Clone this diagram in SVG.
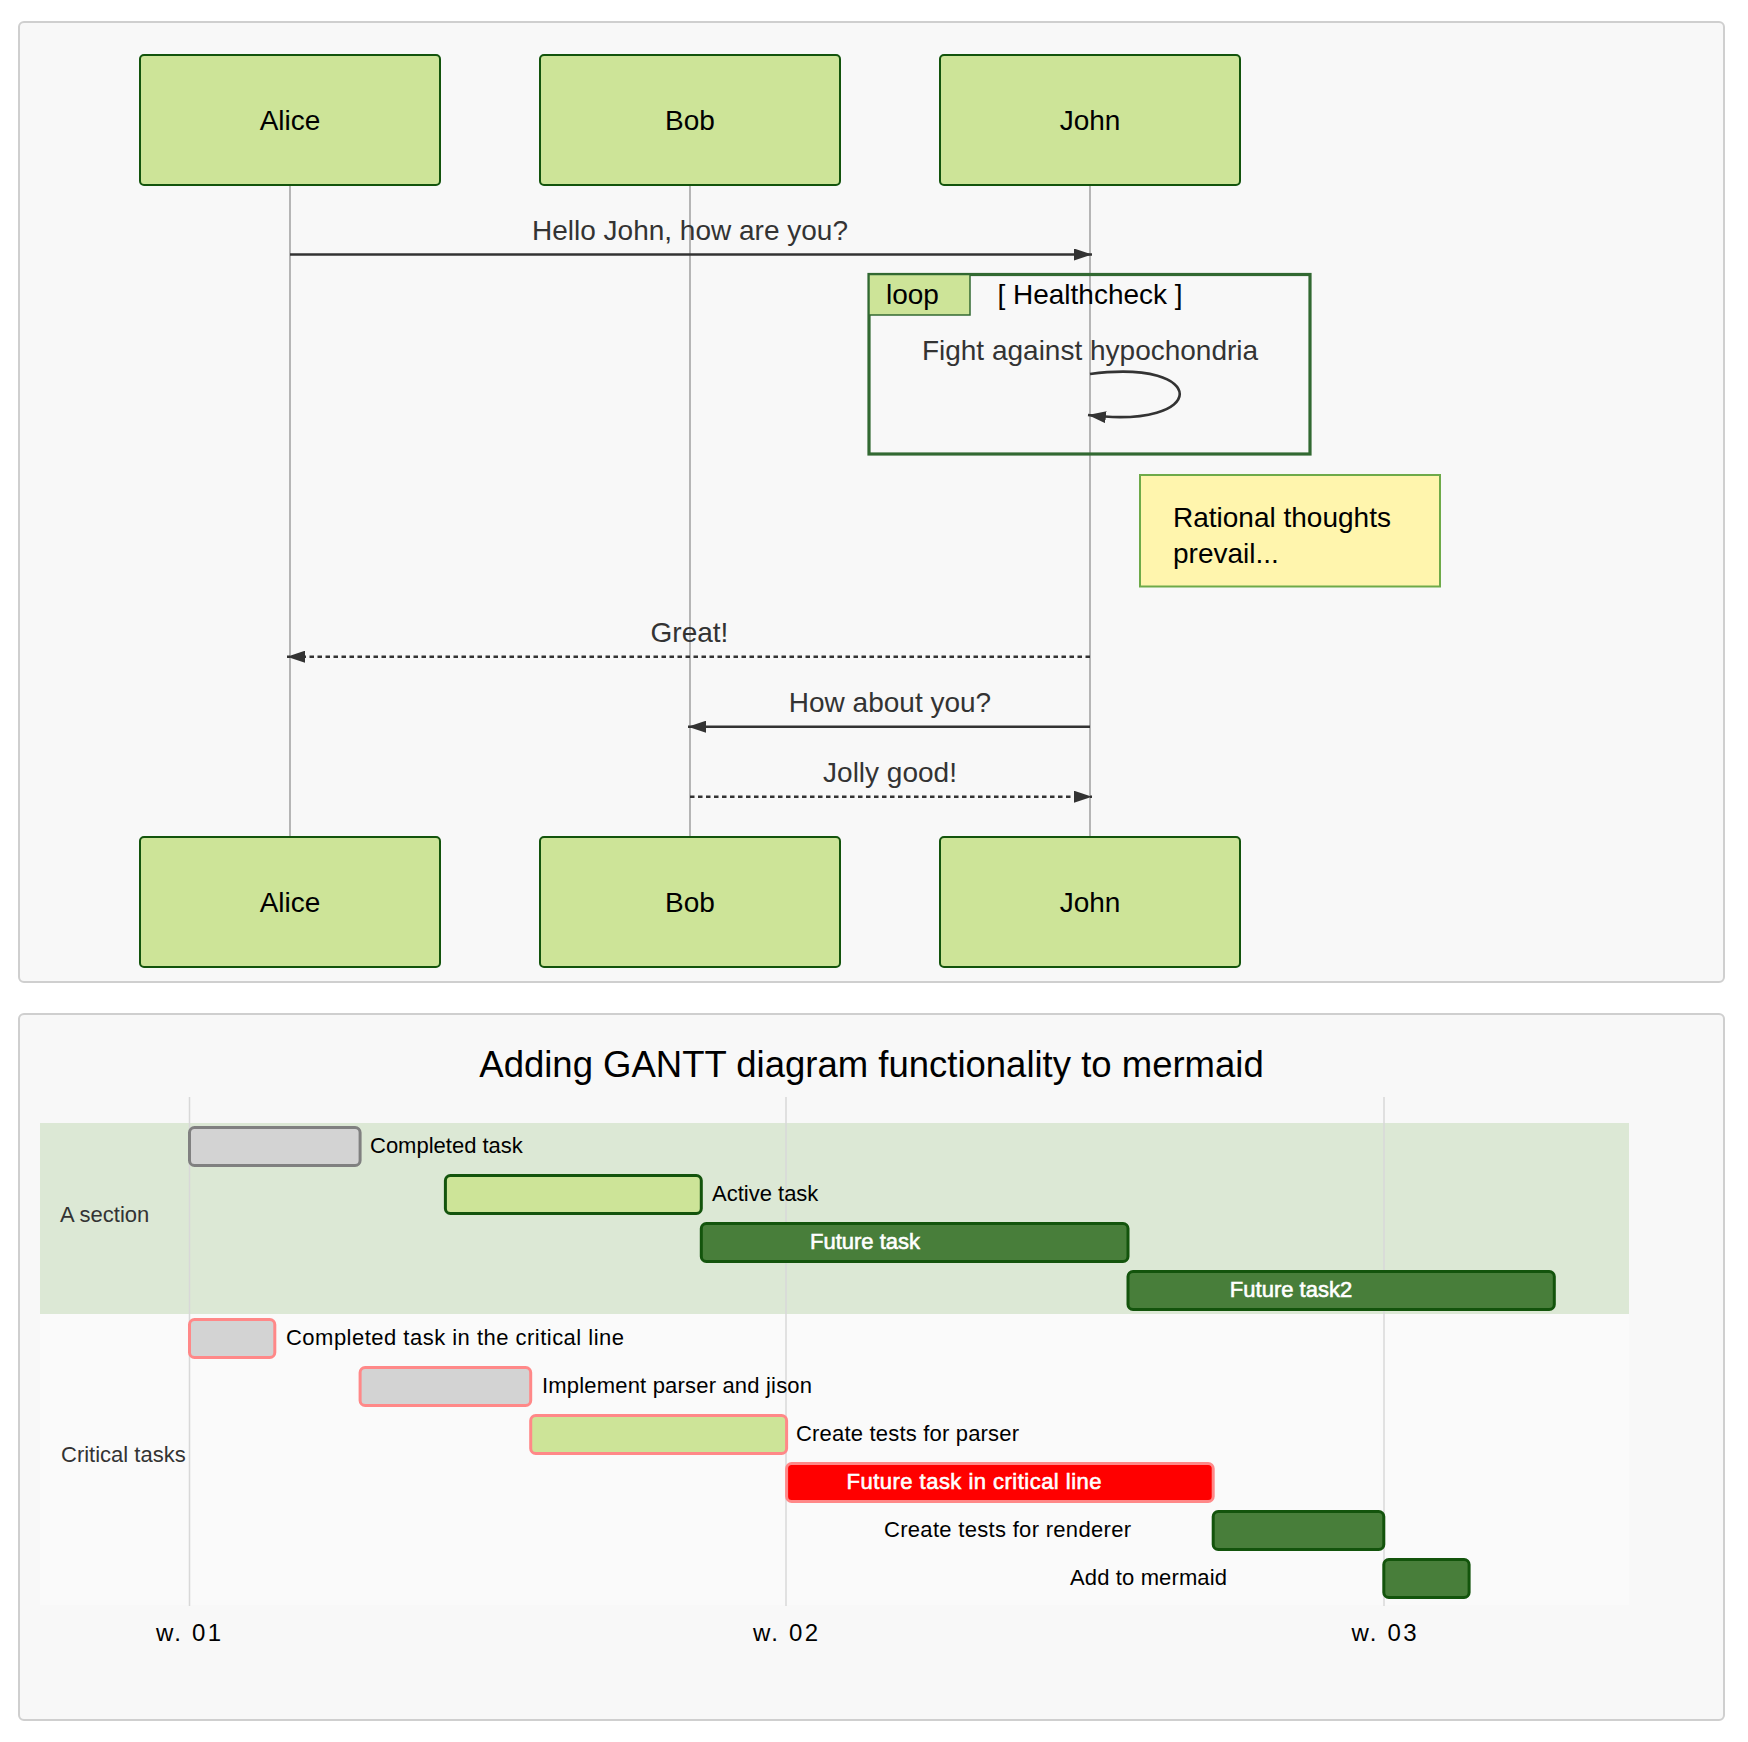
<svg xmlns="http://www.w3.org/2000/svg" width="1748" height="1742" viewBox="0 0 1748 1742">
<defs>
<style>
.panel{fill:#f8f8f8;stroke:#cfcfcf;stroke-width:2}
.actor{fill:#cde498;stroke:#13540c;stroke-width:2}
.atext{font-family:"Liberation Sans",Arial,sans-serif;font-size:28px;fill:#000;text-anchor:middle}
.life{stroke:#aaa;stroke-width:1.7;fill:none}
.msg{stroke:#333;stroke-width:2.6;fill:none}
.dash{stroke-dasharray:4.5,3.5}
.mtext{font-family:"Liberation Sans",Arial,sans-serif;font-size:28px;fill:#333;text-anchor:middle}
.loopbox{fill:none;stroke:#326932;stroke-width:3.2}
.looplabel{fill:#cde498;stroke:#326932;stroke-width:1.5}
.ltext{font-family:"Liberation Sans",Arial,sans-serif;font-size:28px;fill:#000}
.note{fill:#fff5ad;stroke:#6eaa49;stroke-width:2}
.grid{stroke:#d8d8d8;stroke-width:1.5}
.tick{font-family:"Liberation Sans",Arial,sans-serif;font-size:24px;fill:#000;text-anchor:middle}
.title{font-family:"Liberation Sans",Arial,sans-serif;font-size:36.5px;fill:#000;text-anchor:middle}
.stitle{font-family:"Liberation Sans",Arial,sans-serif;font-size:22px;fill:#333}
.ttext{font-family:"Liberation Sans",Arial,sans-serif;font-size:22px;fill:#000}
.tin{font-family:"Liberation Sans",Arial,sans-serif;font-size:22px;fill:#fff;stroke:#fff;stroke-width:0.6;text-anchor:middle}
.task{stroke-width:3}
.done{fill:#d3d3d3;stroke:#808080}
.active{fill:#cde498;stroke:#13540c}
.future{fill:#487e3a;stroke:#13540c}
.critdone{fill:#d3d3d3;stroke:#ff8888}
.critactive{fill:#cde498;stroke:#ff8888}
.crit{fill:#ff0000;stroke:#ff8888}
</style>
<marker id="arrow" markerUnits="userSpaceOnUse" markerWidth="18" markerHeight="12" viewBox="0 0 18 12" refX="18" refY="6" orient="auto">
<path d="M0,0 L18,6 L0,12 z" fill="#333"/>
</marker>
</defs>

<!-- Sequence diagram panel -->
<rect class="panel" x="19" y="22" width="1705" height="960" rx="5"/>

<g id="lifelines">
<line class="life" x1="290" y1="185" x2="290" y2="837"/>
<line class="life" x1="690" y1="185" x2="690" y2="837"/>
<line class="life" x1="1090" y1="185" x2="1090" y2="837"/>
</g>

<g id="actor-alice-top"><rect class="actor" x="140" y="55" width="300" height="130" rx="4"/><text class="atext" x="290" y="130">Alice</text></g>
<g id="actor-bob-top"><rect class="actor" x="540" y="55" width="300" height="130" rx="4"/><text class="atext" x="690" y="130">Bob</text></g>
<g id="actor-john-top"><rect class="actor" x="940" y="55" width="300" height="130" rx="4"/><text class="atext" x="1090" y="130">John</text></g>

<g id="loop">
<rect class="loopbox" x="869" y="274.5" width="441" height="179.5"/>
<rect class="looplabel" x="869" y="274.5" width="101" height="40.5"/>
<text class="ltext" x="886" y="304">loop</text>
<text class="ltext" x="1090" y="304" text-anchor="middle">[ Healthcheck ]</text>
</g>

<g id="note">
<rect class="note" x="1140" y="475" width="300" height="111.5"/>
<text class="ltext" x="1173" y="527">Rational thoughts</text>
<text class="ltext" x="1173" y="563">prevail...</text>
</g>

<g id="connectors">
<line class="msg" x1="290" y1="254.5" x2="1092" y2="254.5" marker-end="url(#arrow)"/>
<text class="mtext" x="690" y="240">Hello John, how are you?</text>
<path class="msg" d="M1090,374 C1210,358 1210,430 1088,415" marker-end="url(#arrow)"/>
<text class="mtext" x="1090" y="360">Fight against hypochondria</text>
<line class="msg dash" x1="1090" y1="656.7" x2="287" y2="656.7" marker-end="url(#arrow)"/>
<text class="mtext" x="689.5" y="641.7">Great!</text>
<line class="msg" x1="1090" y1="726.7" x2="688" y2="726.7" marker-end="url(#arrow)"/>
<text class="mtext" x="890" y="711.7">How about you?</text>
<line class="msg dash" x1="690" y1="796.7" x2="1092" y2="796.7" marker-end="url(#arrow)"/>
<text class="mtext" x="890" y="781.7">Jolly good!</text>
</g>

<g id="actor-alice-bottom"><rect class="actor" x="140" y="837" width="300" height="130" rx="4"/><text class="atext" x="290" y="912">Alice</text></g>
<g id="actor-bob-bottom"><rect class="actor" x="540" y="837" width="300" height="130" rx="4"/><text class="atext" x="690" y="912">Bob</text></g>
<g id="actor-john-bottom"><rect class="actor" x="940" y="837" width="300" height="130" rx="4"/><text class="atext" x="1090" y="912">John</text></g>

<!-- Gantt panel -->
<rect class="panel" x="19" y="1014" width="1705" height="706" rx="5"/>
<text class="title" x="871.5" y="1077">Adding GANTT diagram functionality to mermaid</text>

<g id="sections">
<rect x="40" y="1123" width="1589" height="191" fill="#dce8d5"/>
<rect x="40" y="1314" width="1589" height="291" fill="#fafafa"/>
</g>

<g id="grid">
<line class="grid" x1="189.5" y1="1097" x2="189.5" y2="1606"/>
<line class="grid" x1="786" y1="1097" x2="786" y2="1606"/>
<line class="grid" x1="1384" y1="1097" x2="1384" y2="1606"/>
<text class="tick" x="188.5" y="1641" textLength="65" lengthAdjust="spacing">w. 01</text>
<text class="tick" x="785.5" y="1641" textLength="65" lengthAdjust="spacing">w. 02</text>
<text class="tick" x="1384" y="1641" textLength="65" lengthAdjust="spacing">w. 03</text>
</g>

<g id="section-a"><text class="stitle" x="60" y="1222">A section</text></g>
<g id="section-critical"><text class="stitle" x="61" y="1462">Critical tasks</text></g>

<g id="task-des1"><rect class="task done" x="189.5" y="1127.5" width="170.6" height="38" rx="5"/><text class="ttext" x="370" y="1153">Completed task</text></g>
<g id="task-des2"><rect class="task active" x="445.4" y="1175.5" width="255.9" height="38" rx="5"/><text class="ttext" x="712" y="1201">Active task</text></g>
<g id="task-des3"><rect class="task future" x="701.3" y="1223.5" width="426.7" height="38" rx="5"/><text class="tin" x="865" y="1249">Future task</text></g>
<g id="task-des4"><rect class="task future" x="1128" y="1271.5" width="426.3" height="38" rx="5"/><text class="tin" x="1291" y="1297">Future task2</text></g>
<g id="task-crit1"><rect class="task critdone" x="189.5" y="1319.5" width="85.3" height="38" rx="5"/><text class="ttext" x="286" y="1345" textLength="338" lengthAdjust="spacing">Completed task in the critical line</text></g>
<g id="task-crit2"><rect class="task critdone" x="360.1" y="1367.5" width="170.6" height="38" rx="5"/><text class="ttext" x="542" y="1393" textLength="270" lengthAdjust="spacing">Implement parser and jison</text></g>
<g id="task-crit3"><rect class="task critactive" x="530.7" y="1415.5" width="255.9" height="38" rx="5"/><text class="ttext" x="796" y="1441" textLength="223" lengthAdjust="spacing">Create tests for parser</text></g>
<g id="task-crit4"><rect class="task crit" x="786.6" y="1463.5" width="426.6" height="38" rx="5"/><text class="tin" x="974" y="1489" textLength="255" lengthAdjust="spacing">Future task in critical line</text></g>
<g id="task-render"><rect class="task future" x="1213.2" y="1511.5" width="170.6" height="38" rx="5"/><text class="ttext" x="1131" y="1537" text-anchor="end" textLength="247" lengthAdjust="spacing">Create tests for renderer</text></g>
<g id="task-mermaid"><rect class="task future" x="1383.8" y="1559.5" width="85.3" height="38" rx="5"/><text class="ttext" x="1227" y="1585" text-anchor="end" textLength="157" lengthAdjust="spacing">Add to mermaid</text></g>
</svg>
